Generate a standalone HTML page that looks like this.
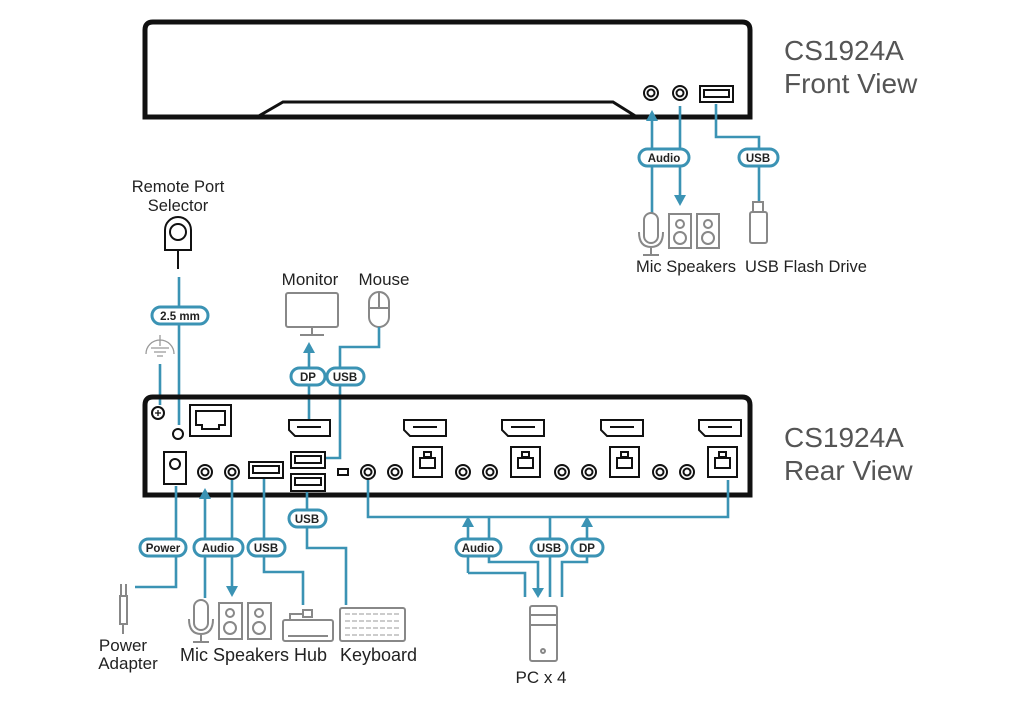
<!DOCTYPE html>
<html><head><meta charset="utf-8"><style>
html,body{margin:0;padding:0;background:#fff}
svg{display:block}
.t{font-family:"Liberation Sans",sans-serif;fill:#222}
.p{font-family:"Liberation Sans",sans-serif;font-weight:bold;font-size:11.5px;fill:#222;text-anchor:middle}
.b{stroke:#3b93b4;stroke-width:2.6;fill:none}
.pill{fill:#fff;stroke:#3b93b4;stroke-width:3}
.k{stroke:#111;fill:none;stroke-width:2}
.g{stroke:#888;fill:none;stroke-width:2}
</style></head><body>
<svg width="1012" height="705" viewBox="0 0 1012 705" xmlns="http://www.w3.org/2000/svg">
<!-- FRONT -->
<path d="M145,117 V30 Q145,22 153,22 H742 Q750,22 750,30 V117 Z" stroke="#111" stroke-width="5" fill="none"/>
<path d="M257,117 L283,102 H613 L637,117" stroke="#111" stroke-width="3" fill="none"/>
<circle cx="651" cy="93" r="7" class="k"/><circle cx="651" cy="93" r="3.5" class="k" stroke-width="1.5"/>
<circle cx="680" cy="93" r="7" class="k"/><circle cx="680" cy="93" r="3.5" class="k" stroke-width="1.5"/>
<rect x="700" y="86" width="33" height="16" class="k"/><rect x="704" y="90" width="25" height="7" class="k" stroke-width="1.5"/>
<text x="784" y="60" class="t" font-size="28" style="fill:#555">CS1924A</text>
<text x="784" y="93" class="t" font-size="28" style="fill:#555">Front View</text>
<line x1="652" y1="120" x2="652" y2="213" class="b"/><path d="M646,121 L658,121 L652,110 Z" fill="#3b93b4"/>
<line x1="680" y1="106" x2="680" y2="196" class="b"/><path d="M674,195 L686,195 L680,206 Z" fill="#3b93b4"/>
<rect x="639" y="149" width="50" height="17" rx="8.5" class="pill"/><text x="664" y="162" class="p">Audio</text>
<path d="M716,104 V137 H759 V202" class="b"/>
<rect x="739" y="149" width="39" height="17" rx="8.5" class="pill"/><text x="758" y="162" class="p">USB</text>
<!-- front icons -->
<rect x="644" y="213" width="14" height="30" rx="7" class="g"/><path d="M639,232 Q639,247 651,247 Q663,247 663,232 M651,247 V254 M643,255 H659" class="g"/>
<rect x="669" y="214" width="22" height="34" class="g"/><circle cx="680" cy="224" r="4" class="g"/><circle cx="680" cy="238" r="6" class="g"/>
<rect x="697" y="214" width="22" height="34" class="g"/><circle cx="708" cy="224" r="4" class="g"/><circle cx="708" cy="238" r="6" class="g"/>
<rect x="753" y="202" width="10" height="10" class="g" stroke-width="1.5"/><rect x="750" y="212" width="17" height="31" rx="2" class="g"/>
<text x="636" y="272" class="t" font-size="16.5">Mic Speakers</text>
<text x="745" y="272" class="t" font-size="16.5">USB Flash Drive</text>
<!-- Remote selector -->
<text x="178" y="192" class="t" font-size="16.5" text-anchor="middle">Remote Port</text>
<text x="178" y="211" class="t" font-size="16.5" text-anchor="middle">Selector</text>
<path d="M165,250 V230 A13,13 0 0 1 191,230 V250 Z" class="k"/><circle cx="178" cy="232" r="8" class="k"/>
<line x1="178" y1="250" x2="178" y2="269" class="k"/>
<line x1="179" y1="277" x2="179" y2="425" class="b"/>
<rect x="152" y="307" width="56" height="17" rx="8.5" class="pill"/><text x="180" y="320" class="p">2.5 mm</text>
<path d="M146,354 A14,14 0 0 1 174,354 M160,335 V346 M151,348 H169 M154,352 H166 M157,356 H163" stroke="#999" stroke-width="1.3" fill="none"/>
<line x1="160" y1="364" x2="160" y2="405" class="b"/>
<!-- monitor/mouse -->
<text x="310" y="285" class="t" font-size="17" text-anchor="middle">Monitor</text>
<text x="384" y="285" class="t" font-size="17" text-anchor="middle">Mouse</text>
<rect x="286" y="293" width="52" height="34" rx="2" class="g"/><path d="M312,327 V334 M300,335 H324" class="g"/>
<rect x="369" y="292" width="20" height="35" rx="10" class="g"/><path d="M369,308 H389 M379,292 V308" class="g" stroke-width="1.5"/>
<line x1="309" y1="352" x2="309" y2="420" class="b"/><path d="M303,353 L315,353 L309,342 Z" fill="#3b93b4"/>
<path d="M379,327 V347 H340 V458 H326" class="b"/>
<rect x="291" y="368" width="34" height="17" rx="8.5" class="pill"/><text x="308" y="381" class="p">DP</text>
<rect x="327" y="368" width="37" height="17" rx="8.5" class="pill"/><text x="345" y="381" class="p">USB</text>
<!-- REAR -->
<path d="M145,495 V405 Q145,397 153,397 H742 Q750,397 750,405 V495 Z" stroke="#111" stroke-width="5" fill="none"/>
<circle cx="158" cy="413" r="6" class="k" stroke-width="1.6"/><path d="M155,413 H161 M158,410 V416" stroke="#111" stroke-width="1.3"/>
<circle cx="178" cy="434" r="5" class="k" stroke-width="1.6"/>
<rect x="190" y="405" width="41" height="31" class="k"/><path d="M196,411 H225 V425 H219 V429 H202 V425 H196 Z" class="k" stroke-width="1.5"/>
<rect x="164" y="452" width="22" height="32" class="k"/><circle cx="175" cy="464" r="5" class="k" stroke-width="1.5"/>
<rect x="249" y="462" width="34" height="16" class="k"/><rect x="253" y="466" width="26" height="7" class="k" stroke-width="1.3"/>
<rect x="291" y="452" width="34" height="16" class="k"/><rect x="295" y="456" width="26" height="7" class="k" stroke-width="1.3"/>
<rect x="291" y="474" width="34" height="17" class="k"/><rect x="295" y="478" width="26" height="7" class="k" stroke-width="1.3"/>
<rect x="338" y="469" width="10" height="6" class="k" stroke-width="1.3"/>
<g id="jk">
<circle cx="205" cy="472" r="7" class="k"/><circle cx="205" cy="472" r="3.5" class="k" stroke-width="1.4"/>
<circle cx="232" cy="472" r="7" class="k"/><circle cx="232" cy="472" r="3.5" class="k" stroke-width="1.4"/>
</g>
<use href="#jk" x="163"/><use href="#jk" x="258"/><use href="#jk" x="357"/><use href="#jk" x="455"/>
<g id="grp">
<path d="M404,420 H446 V436 H410 L404,430 Z" class="k"/><path d="M413,427 H437" class="k" stroke-width="1.3"/>
<rect x="413" y="447" width="29" height="30" class="k"/><rect x="420" y="458" width="15" height="10" class="k" stroke-width="1.4"/><rect x="424" y="452" width="7" height="5" class="k" stroke-width="1.2"/>
</g>
<path d="M289,420 H330 V436 H295 L289,430 Z" fill="#fff" class="k"/><path d="M297,427 H321" class="k" stroke-width="1.3"/>
<use href="#grp" x="98"/><use href="#grp" x="197"/><use href="#grp" x="295"/>
<text x="784" y="447" class="t" font-size="28" style="fill:#555">CS1924A</text>
<text x="784" y="480" class="t" font-size="28" style="fill:#555">Rear View</text>
<!-- rear connectors -->
<path d="M368,480 V517 H728 V480" class="b"/>
<line x1="468" y1="526" x2="468" y2="573" class="b"/><path d="M462,527 L474,527 L468,516 Z" fill="#3b93b4"/>
<path d="M468,573 H525 V597" class="b"/>
<path d="M489,517 V562 H538 V588" class="b"/><path d="M532,588 L544,588 L538,598 Z" fill="#3b93b4"/>
<line x1="550" y1="517" x2="550" y2="597" class="b"/>
<path d="M587,526 V562 H562 V597" class="b"/><path d="M581,527 L593,527 L587,516 Z" fill="#3b93b4"/>
<rect x="456" y="539" width="45" height="17" rx="8.5" class="pill"/><text x="478" y="552" class="p">Audio</text>
<rect x="531" y="539" width="36" height="17" rx="8.5" class="pill"/><text x="549" y="552" class="p">USB</text>
<rect x="572" y="539" width="31" height="17" rx="8.5" class="pill"/><text x="587" y="552" class="p">DP</text>
<rect x="530" y="606" width="27" height="55" rx="2" class="g"/><path d="M530,615 H557 M530,625 H557" class="g"/><circle cx="543" cy="651" r="2" class="g" stroke-width="1.3"/>
<text x="541" y="683" class="t" font-size="17" text-anchor="middle">PC x 4</text>
<!-- left connectors -->
<path d="M176,486 V587 H135" class="b"/>
<line x1="205" y1="498" x2="205" y2="598" class="b"/><path d="M199,499 L211,499 L205,488 Z" fill="#3b93b4"/>
<line x1="232" y1="480" x2="232" y2="586" class="b"/><path d="M226,586 L238,586 L232,597 Z" fill="#3b93b4"/>
<path d="M264,479 V572 H303 V605" class="b"/>
<path d="M307,492 V548 H346 V605" class="b"/>
<rect x="140" y="539" width="46" height="17" rx="8.5" class="pill"/><text x="163" y="552" class="p">Power</text>
<rect x="194" y="539" width="49" height="17" rx="8.5" class="pill"/><text x="218" y="552" class="p">Audio</text>
<rect x="248" y="539" width="37" height="17" rx="8.5" class="pill"/><text x="266" y="552" class="p">USB</text>
<rect x="289" y="510" width="37" height="17" rx="8.5" class="pill"/><text x="307" y="523" class="p">USB</text>
<!-- left icons -->
<path d="M121,584 V596 M126,584 V596 M120,596 H127 V624 H120 Z M123,624 V634" class="g" stroke-width="1.8"/>
<text x="123" y="651" class="t" font-size="17" text-anchor="middle">Power</text>
<text x="128" y="669" class="t" font-size="17" text-anchor="middle">Adapter</text>
<rect x="194" y="600" width="14" height="30" rx="7" class="g"/><path d="M189,619 Q189,634 201,634 Q213,634 213,619 M201,634 V641 M193,642 H209" class="g"/>
<rect x="219" y="603" width="23" height="36" class="g"/><circle cx="230" cy="613" r="4" class="g"/><circle cx="230" cy="628" r="6" class="g"/>
<rect x="248" y="603" width="23" height="36" class="g"/><circle cx="259" cy="613" r="4" class="g"/><circle cx="259" cy="628" r="6" class="g"/>
<rect x="283" y="620" width="50" height="21" rx="2" class="g"/><path d="M290,620 V614 H303 M303,610 H312 V617 H303 Z M288,636 H328" class="g" stroke-width="1.6"/>
<rect x="340" y="608" width="65" height="33" rx="2" class="g"/>
<path d="M345,614 H400 M345,621 H400 M345,628 H400 M345,635 H400" stroke="#999" stroke-width="1" stroke-dasharray="5,2" fill="none"/>
<text x="180" y="661" class="t" font-size="18">Mic Speakers Hub</text>
<text x="340" y="661" class="t" font-size="18">Keyboard</text>
</svg>
</body></html>
